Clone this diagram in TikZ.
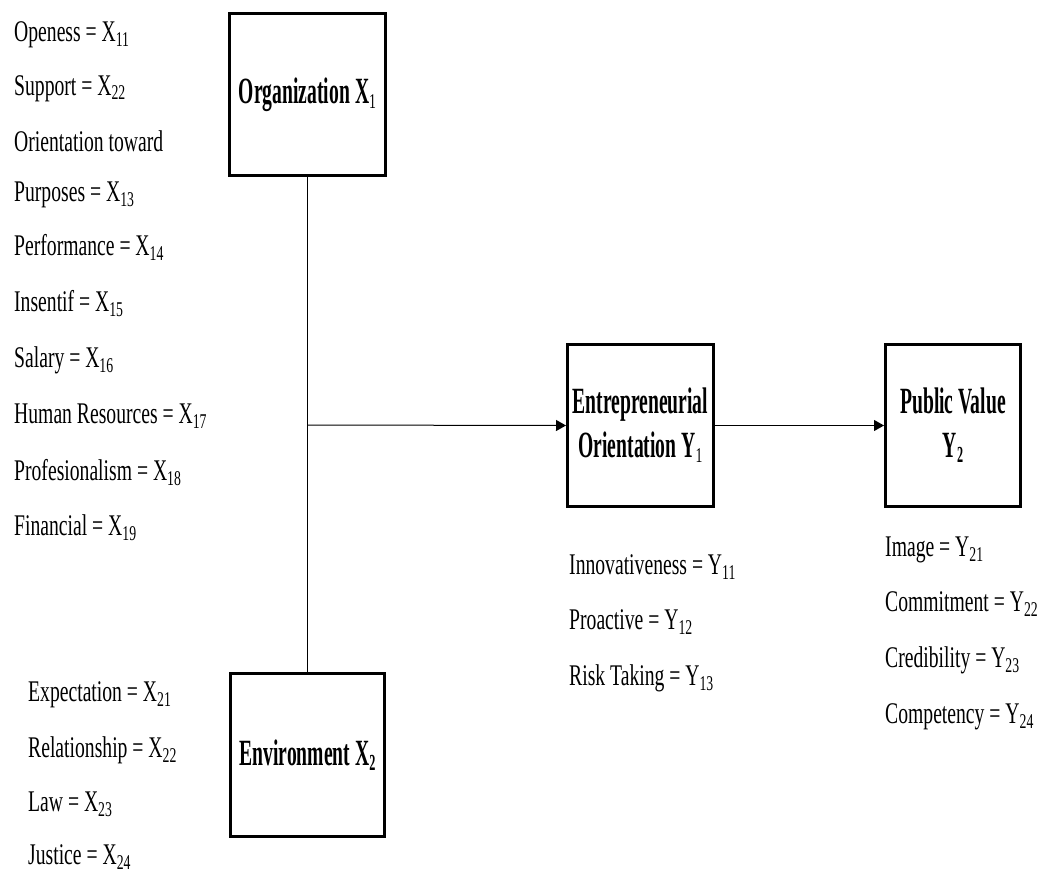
\documentclass[tikz,border=0pt]{standalone}
\usepackage{fontspec}
\setmainfont{Liberation Serif}
\newfontfamily\regf[FakeStretch=0.655]{Liberation Serif}
\newfontfamily\boldf[FakeStretch=0.53]{Liberation Serif}
\usetikzlibrary{arrows.meta}
\newcommand\rs[1]{\raisebox{-5pt}{\regf\mdseries\fontsize{21}{21}\selectfont #1}}
\newcommand\bsb[1]{\raisebox{-5pt}{\boldf\bfseries\fontsize{23}{23}\selectfont #1}}
\begin{document}
\begin{tikzpicture}[x=1pt,y=-1pt,
  box/.style={draw, line width=3pt, align=center, inner sep=0pt,
    font=\boldf\bfseries\fontsize{37}{44}\selectfont},
  item/.style={anchor=base west, inner sep=0pt, font=\regf\fontsize{30}{34}\selectfont},
  conn/.style={line width=1pt},
  arr/.style={line width=1pt, -{Triangle[length=10pt,width=11pt]}}]
\useasboundingbox (0,0) rectangle (1038,875);
\fill[white] (0,0) rectangle (1038,875);

% boxes
\node[box, minimum width=156pt, minimum height=162pt] (org) at (307.5,94.5) {Organization X\rs{1}};
\node[box, minimum width=154pt, minimum height=163pt] (env) at (307.5,755) {Environment X\bsb{2}};
\node[box, minimum width=146pt, minimum height=162pt] (eo) at (640.5,425.5) {Entrepreneurial\\Orientation Y\rs{1}};
\node[box, minimum width=135pt, minimum height=162pt] (pv) at (953,425.5) {Public Value\\Y\bsb{2}};

% connectors
\coordinate (j) at (307,425);
\draw[conn] (org.south) -- (env.north);
\draw[arr] (j) -- (eo.west);
\draw[arr] (eo.east) -- (pv.west);

% organization indicators
\node[item] (x11) at (14,42) {Openess = X\rs{11}};
\node[item] (x12) at (14,95) {Support = X\rs{22}};
\node[item] (x13a) at (14,151) {Orientation toward};
\node[item] (x13) at (14,201) {Purposes = X\rs{13}};
\node[item] (x14) at (14,255) {Performance = X\rs{14}};
\node[item] (x15) at (14,311) {Insentif = X\rs{15}};
\node[item] (x16) at (14,367) {Salary = X\rs{16}};
\node[item] (x17) at (14,423) {Human Resources = X\rs{17}};
\node[item] (x18) at (14,480) {Profesionalism = X\rs{18}};
\node[item] (x19) at (14,535) {Financial = X\rs{19}};

% environment indicators
\node[item] (x21) at (28,701) {Expectation = X\rs{21}};
\node[item] (x22) at (28,757) {Relationship = X\rs{22}};
\node[item] (x23) at (28,811) {Law = X\rs{23}};
\node[item] (x24) at (28,864) {Justice = X\rs{24}};

% EO indicators
\node[item] (y11) at (569,574) {Innovativeness = Y\rs{11}};
\node[item] (y12) at (569,629) {Proactive = Y\rs{12}};
\node[item] (y13) at (569,685) {Risk Taking = Y\rs{13}};

% PV indicators
\node[item] (y21) at (885,556) {Image = Y\rs{21}};
\node[item] (y22) at (885,611) {Commitment = Y\rs{22}};
\node[item] (y23) at (885,667) {Credibility = Y\rs{23}};
\node[item] (y24) at (885,723) {Competency = Y\rs{24}};
\end{tikzpicture}
\end{document}
